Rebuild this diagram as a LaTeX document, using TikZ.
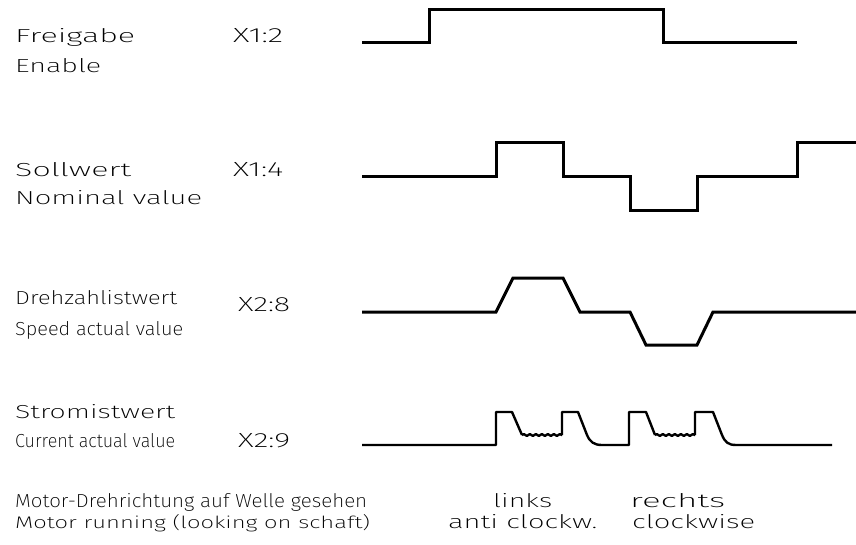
\documentclass[tikz,border=0pt]{standalone}
\usepackage{fontspec}
\setmainfont{Fira Sans ExtraLight}
\usepackage{graphicx}
\usetikzlibrary{decorations.pathmorphing}
\tikzset{
  wave/.style={line width=3pt, line join=miter, black},
  cwave/.style={line width=2.4pt, line join=round, black},
  lbl/.style={anchor=base west, inner sep=0pt, text=black},
}
\newcommand{\fitt}[3]{\resizebox{#1pt}{#2pt}{#3}}
\begin{document}
\begin{tikzpicture}[x=1pt,y=-1pt]
\useasboundingbox (0,0) rectangle (856,545);
% labels
\node[lbl] (freigabe) at (15,43) {\fitt{120}{14}{Freigabe}};
\node[lbl] (enable) at (15,73) {\fitt{86}{14}{Enable}};
\node[lbl] (x12) at (233,43) {\fitt{50}{14}{X1:2}};
\node[lbl] (sollwert) at (15,177) {\fitt{116}{14}{Sollwert}};
\node[lbl] (nominal) at (15,205) {\fitt{187}{14}{Nominal value}};
\node[lbl] (x14) at (233,177) {\fitt{50}{14}{X1:4}};
\node[lbl] (drehzahl) at (15,304) {\fitt{162}{14}{Drehzahlistwert}};
\node[lbl] (speed) at (15,335) {\fitt{168}{14}{Speed actual value}};
\node[lbl] (x28) at (238,311) {\fitt{52}{14}{X2:8}};
\node[lbl] (strom) at (15,418) {\fitt{160}{14}{Stromistwert}};
\node[lbl] (current) at (15,447) {\fitt{160}{14}{Current actual value}};
\node[lbl] (x29) at (238,447) {\fitt{52}{14}{X2:9}};
\node[lbl] (motor1) at (15,507) {\fitt{352}{14}{Motor-Drehrichtung auf Welle gesehen}};
\node[lbl] (motor2) at (15,528) {\fitt{355}{14}{Motor running (looking on schaft)}};
\node[lbl] (links) at (493,507) {\fitt{59}{14}{links}};
\node[lbl] (rechts) at (630,507) {\fitt{95}{14}{rechts}};
\node[lbl] (anti) at (448,528) {\fitt{149}{14}{anti clockw.}};
\node[lbl] (cw) at (632,528) {\fitt{123}{14}{clockwise}};
% Freigabe waveform
\draw[wave] (362,43) -- (429,43) -- (429,10) -- (663,10) -- (663,43) -- (797,43);
% Sollwert waveform
\draw[wave] (362,177) -- (496,177) -- (496,143) -- (563,143) -- (563,177) -- (630,177)
  -- (630,211) -- (697,211) -- (697,177) -- (797,177) -- (797,143) -- (856,143);
% Drehzahl waveform
\draw[wave] (362,312) -- (496,312) -- (513,278) -- (563,278) -- (580,312) -- (630,312)
  -- (646,345) -- (697,345) -- (713,312) -- (856,312);
% Strom waveform
\draw[cwave] (362,445) -- (496,445) -- (496,412) -- (512,412) -- (522,435);
\draw[cwave, decorate, decoration={snake, amplitude=0.9pt, segment length=6pt}] (522,435) -- (562,435);
\draw[cwave] (562,435) -- (562,412) -- (578,412) -- (587,435)
  .. controls (590,442) and (594,445) .. (602,445) -- (629,445) -- (629,412) -- (646,412) -- (655,435);
\draw[cwave, decorate, decoration={snake, amplitude=0.9pt, segment length=6pt}] (655,435) -- (695,435);
\draw[cwave] (695,435) -- (695,412) -- (713,412) -- (722,435)
  .. controls (725,442) and (728,445) .. (736,445) -- (832,445);
\end{tikzpicture}
\end{document}
